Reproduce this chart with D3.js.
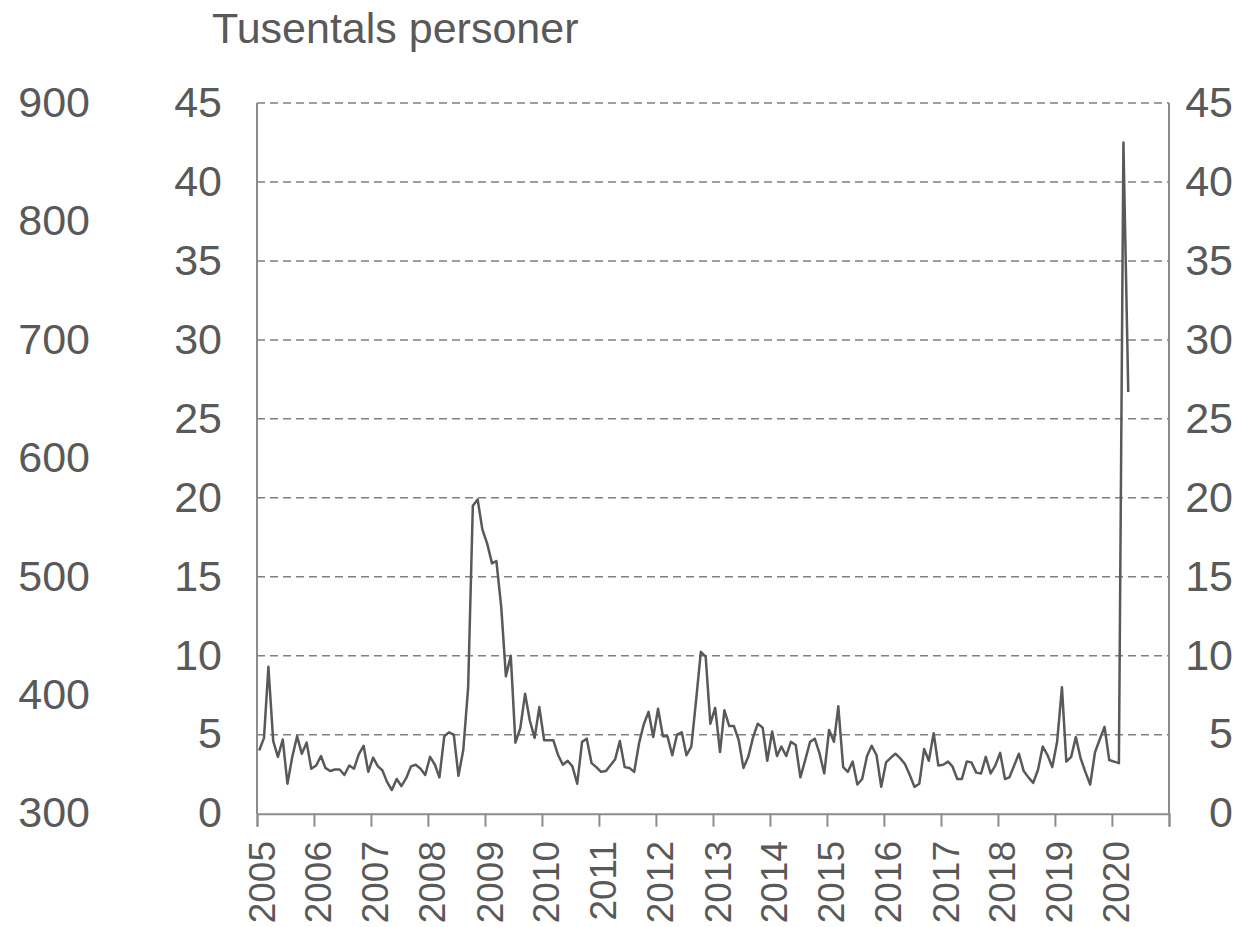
<!DOCTYPE html>
<html>
<head>
<meta charset="utf-8">
<script src="https://cdn.jsdelivr.net/npm/d3@7"></script>
<style>
  body{margin:0;background:#fff;}
  svg text{font-family:"Liberation Sans",Arial,sans-serif;fill:#595959;}
</style>
</head>
<body>
<div class="graph"></div>
<script>
// monthly values, thousands of persons, Jan 2005 - Apr 2020
var startYear = 2005;
var monthly = [
  4.0, 4.8, 9.3, 4.6, 3.6, 4.7, 1.9, 3.6, 4.9, 3.8, 4.5, 2.85,   // 2005
  3.05, 3.65, 2.9, 2.7, 2.8, 2.8, 2.45, 3.05, 2.85, 3.75, 4.3, 2.65, // 2006
  3.55, 3.0, 2.75, 2.0, 1.5, 2.2, 1.75, 2.25, 3.0, 3.1, 2.85, 2.45,  // 2007
  3.6, 3.1, 2.3, 4.9, 5.15, 5.0, 2.4, 4.05, 8.0, 19.5, 19.9, 18.0,  // 2008
  17.1, 15.85, 16.0, 13.1, 8.7, 10.0, 4.5, 5.4, 7.6, 5.9, 4.8, 6.75, // 2009
  4.65, 4.65, 4.65, 3.7, 3.1, 3.35, 3.0, 1.9, 4.55, 4.75, 3.2, 2.95, // 2010
  2.65, 2.7, 3.05, 3.45, 4.6, 2.95, 2.9, 2.65, 4.45, 5.65, 6.45, 4.85, // 2011
  6.65, 4.9, 4.9, 3.7, 5.0, 5.15, 3.7, 4.25, 7.2, 10.25, 9.95, 5.7,  // 2012
  6.7, 3.9, 6.55, 5.55, 5.55, 4.65, 2.9, 3.6, 4.85, 5.7, 5.45, 3.35, // 2013
  5.2, 3.65, 4.25, 3.65, 4.55, 4.35, 2.3, 3.4, 4.55, 4.75, 3.8, 2.55, // 2014
  5.3, 4.55, 6.8, 2.95, 2.65, 3.3, 1.85, 2.2, 3.65, 4.3, 3.7, 1.7,   // 2015
  3.25, 3.55, 3.8, 3.5, 3.15, 2.45, 1.7, 1.9, 4.1, 3.35, 5.1, 3.05,  // 2016
  3.1, 3.3, 3.0, 2.2, 2.2, 3.3, 3.25, 2.6, 2.55, 3.6, 2.55, 3.05,    // 2017
  3.85, 2.2, 2.3, 3.05, 3.8, 2.7, 2.3, 1.95, 2.8, 4.25, 3.7, 2.95,   // 2018
  4.55, 8.0, 3.3, 3.6, 4.85, 3.5, 2.65, 1.85, 3.9, 4.7, 5.5, 3.4,    // 2019
  3.3, 3.2, 42.5, 26.7                                               // 2020
];
var innerTicks = [0, 5, 10, 15, 20, 25, 30, 35, 40, 45];
var outerTicks = [300, 400, 500, 600, 700, 800, 900];
var yearTicks = d3.range(2005, 2022);
var title = "Tusentals personer";

var Chart = (function(){
  var svg, x, y, yOuter;
  var ww = 1258, hh = 927;
  var left = 257, right = 1169, top = 103, bottom = 813.7;
  var fs = 43, fsYear = 37;

  function initHTML(){
    svg = d3.select(".graph").append("svg")
            .attr("width", ww)
            .attr("height", hh);
    x = d3.scaleTime()
          .domain([new Date(2005,0,1), new Date(2021,0,1)])
          .range([left, right]);
    y = d3.scaleLinear().domain([0,45]).range([bottom, top]);
    yOuter = d3.scaleLinear().domain([300,900]).range([bottom, top]);
  }

  function renderGrid(){
    svg.append("g").selectAll("line")
       .data(innerTicks.filter(function(t){ return t > 0; }))
       .enter().append("line")
       .attr("x1", left).attr("x2", right)
       .attr("y1", function(d){ return y(d); })
       .attr("y2", function(d){ return y(d); })
       .style("stroke", "#808080")
       .style("stroke-width", "1.5px")
       .style("stroke-dasharray", "8,5");
  }

  function renderAxes(){
    // x axis with yearly ticks pointing down
    var xAxis = d3.axisBottom(x)
                  .tickValues(yearTicks.map(function(yr){ return new Date(yr,0,1); }))
                  .tickSize(13)
                  .tickFormat("");
    var gx = svg.append("g")
                .attr("transform", "translate(0," + bottom + ")")
                .call(xAxis);
    gx.selectAll("line, path").style("stroke", "#8c8c8c").style("stroke-width", "2px");

    // year labels, rotated
    svg.append("g").selectAll("text")
       .data(yearTicks.slice(0, -1))
       .enter().append("text")
       .attr("transform", function(d){ return "translate(" + x(new Date(d,0,1)) + ",841) rotate(-90)"; })
       .attr("dy", "17.5px")
       .style("text-anchor", "end")
       .style("font-size", fsYear + "px")
       .text(function(d){ return d; });

    // left and right axis lines
    [left, right].forEach(function(xx){
      svg.append("line")
         .attr("x1", xx).attr("x2", xx)
         .attr("y1", top).attr("y2", bottom)
         .style("stroke", "#8c8c8c")
         .style("stroke-width", "2px");
    });

    // inner left labels
    svg.append("g").selectAll("text")
       .data(innerTicks).enter().append("text")
       .attr("x", 222)
       .attr("y", function(d){ return y(d); })
       .attr("dy", "0.32em")
       .style("text-anchor", "end")
       .style("font-size", fs + "px")
       .text(function(d){ return d; });

    // right labels
    svg.append("g").selectAll("text")
       .data(innerTicks).enter().append("text")
       .attr("x", 1233)
       .attr("y", function(d){ return y(d); })
       .attr("dy", "0.32em")
       .style("text-anchor", "end")
       .style("font-size", fs + "px")
       .text(function(d){ return d; });

    // outer left labels
    svg.append("g").selectAll("text")
       .data(outerTicks).enter().append("text")
       .attr("x", 90)
       .attr("y", function(d){ return yOuter(d); })
       .attr("dy", "0.32em")
       .style("text-anchor", "end")
       .style("font-size", fs + "px")
       .text(function(d){ return d; });

    svg.append("text")
       .attr("x", 212)
       .attr("y", 43)
       .style("font-size", fs + "px")
       .text(title);
  }

  function renderLine(){
    var data = monthly.map(function(v,i){
      return { date: new Date(startYear, i, 15), value: v };
    });
    var line = d3.line()
                 .x(function(d){ return x(d.date); })
                 .y(function(d){ return y(d.value); });
    svg.append("path")
       .datum(data)
       .attr("d", line)
       .style("fill", "none")
       .style("stroke", "#595959")
       .style("stroke-width", "2.5px")
       .style("stroke-linejoin", "round");
  }

  return {
    init : function(){
      initHTML();
      renderGrid();
      renderAxes();
      renderLine();
    }
  };
})();

Chart.init();
</script>
</body>
</html>
